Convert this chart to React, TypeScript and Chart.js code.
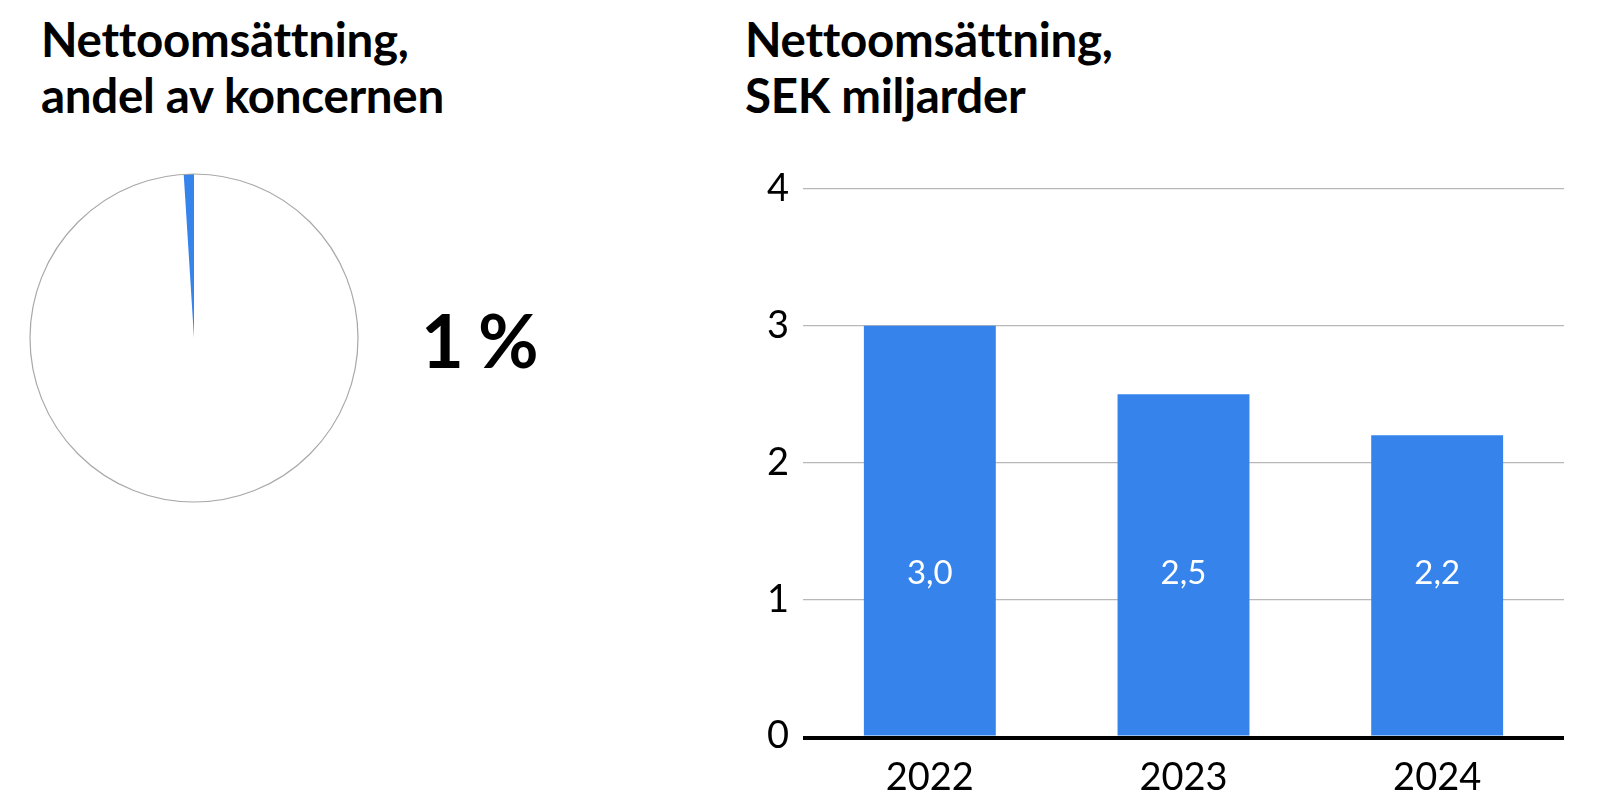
import React, { useEffect, useRef } from "react";
import { Chart, registerables } from "chart.js";

Chart.register(...registerables);

const pieLabels = ["Övriga koncernen", "Andel"];
const pieValues = [99, 1];
const pieColors = ["#ffffff", "#3583eb"];
const shareText = "1 %";

const barCategories = ["2022", "2023", "2024"];
const barValues = [3.0, 2.5, 2.2];
const barValueLabels = ["3,0", "2,5", "2,2"];
const yMin = 0;
const yMax = 4;
const yStep = 1;
const labelAnchorValue = 1.19;

const leftTitle = ["Nettoomsättning,", "andel av koncernen"];
const rightTitle = ["Nettoomsättning,", "SEK miljarder"];

const BLUE = "#3583eb";
const FONT = "Lato, 'Open Sans', sans-serif";

const pieOutline = {
  id: "pieOutline",
  afterDatasetsDraw(chart: any) {
    const arc = chart.getDatasetMeta(0).data[0];
    if (!arc) return;
    const ctx = chart.ctx;
    ctx.save();
    ctx.beginPath();
    ctx.arc(arc.x, arc.y, arc.outerRadius, 0, Math.PI * 2);
    ctx.strokeStyle = "#a8a8a8";
    ctx.lineWidth = 1.2;
    ctx.stroke();
    ctx.restore();
  },
};

const barExtras = {
  id: "barExtras",
  afterDatasetsDraw(chart: any) {
    const ctx = chart.ctx;
    const y = chart.scales.y;
    const x = chart.scales.x;
    const area = chart.chartArea;
    ctx.save();
    const y0 = y.getPixelForValue(0);
    ctx.beginPath();
    ctx.moveTo(area.left, y0 + 2);
    ctx.lineTo(area.right, y0 + 2);
    ctx.strokeStyle = "#000";
    ctx.lineWidth = 4;
    ctx.stroke();
    ctx.fillStyle = "#ffffff";
    ctx.font = `400 33px ${FONT}`;
    ctx.textAlign = "center";
    ctx.textBaseline = "middle";
    barValueLabels.forEach((lab, i) => {
      ctx.fillText(lab, x.getPixelForValue(i), y.getPixelForValue(labelAnchorValue));
    });
    ctx.restore();
  },
};

function PieChart() {
  const ref = useRef<HTMLCanvasElement>(null);
  useEffect(() => {
    const chart = new Chart(ref.current!, {
      type: "pie",
      data: {
        labels: pieLabels,
        datasets: [
          {
            data: pieValues,
            backgroundColor: pieColors,
            borderWidth: 0,
          },
        ],
      },
      options: {
        animation: false,
        responsive: false,
        layout: { padding: 6 },
        plugins: { legend: { display: false }, tooltip: { enabled: false } },
      },
      plugins: [pieOutline],
    });
    return () => chart.destroy();
  }, []);
  return <canvas ref={ref} width={340} height={340} style={{ position: "absolute", left: 24, top: 168 }} />;
}

function BarChart() {
  const ref = useRef<HTMLCanvasElement>(null);
  useEffect(() => {
    const chart = new Chart(ref.current!, {
      type: "bar",
      data: {
        labels: barCategories,
        datasets: [
          {
            data: barValues,
            backgroundColor: BLUE,
            borderWidth: 0,
            barPercentage: 0.65,
            categoryPercentage: 0.8,
          },
        ],
      },
      options: {
        animation: false,
        responsive: false,
        layout: { padding: { top: 39, right: 36, left: 0, bottom: 0 } },
        plugins: { legend: { display: false }, tooltip: { enabled: false } },
        scales: {
          x: {
            grid: { display: false, drawTicks: false },
            border: { display: false },
            ticks: { color: "#000", font: { family: FONT, size: 38 }, padding: 19 },
            afterFit: (s: any) => {
              s.height = 76;
            },
          },
          y: {
            min: yMin,
            max: yMax,
            grid: {
              drawTicks: false,
              color: (c: any) => (c.tick && c.tick.value === 0 ? "rgba(0,0,0,0)" : "#b8b8b8"),
              lineWidth: 1.2,
            },
            border: { display: false },
            ticks: {
              stepSize: yStep,
              color: "#000",
              font: { family: FONT, size: 38 },
              padding: 14,
            },
            afterFit: (s: any) => {
              s.width = 63;
            },
          },
        },
      },
      plugins: [barExtras],
    });
    return () => chart.destroy();
  }, []);
  return <canvas ref={ref} width={860} height={662} style={{ position: "absolute", left: 740, top: 150 }} />;
}

const titleStyle: React.CSSProperties = {
  position: "absolute",
  top: 11,
  fontFamily: FONT,
  fontWeight: 700,
  fontSize: 47.5,
  lineHeight: "56px",
  color: "#000",
  whiteSpace: "nowrap",
  letterSpacing: "-0.3px",
};

export default function App() {
  return (
    <div style={{ position: "fixed", left: 0, top: 0, width: 1600, height: 812, background: "#fff", overflow: "hidden" }}>
      <div style={{ ...titleStyle, left: 41 }}>
        {leftTitle.map((t) => (
          <div key={t}>{t}</div>
        ))}
      </div>
      <div style={{ ...titleStyle, left: 745 }}>
        {rightTitle.map((t) => (
          <div key={t}>{t}</div>
        ))}
      </div>
      <PieChart />
      <div
        style={{
          position: "absolute",
          left: 421,
          top: 290,
          fontFamily: FONT,
          fontWeight: 700,
          fontSize: 74,
          lineHeight: "100px",
          color: "#000",
          whiteSpace: "nowrap",
          letterSpacing: "-2px",
        }}
      >
        {shareText}
      </div>
      <BarChart />
    </div>
  );
}
